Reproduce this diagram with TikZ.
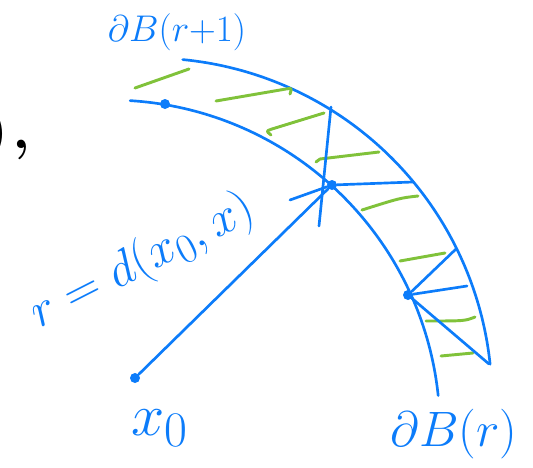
\documentclass[tikz,border=0pt]{standalone}
\definecolor{pen}{RGB}{12, 124, 250}
\definecolor{marker}{RGB}{128, 194, 58}
\usepackage{tikz}
\usetikzlibrary{positioning}

\begin{document}
\begin{tikzpicture}[
            x=0.75pt, y=-0.75pt,
            penline/.style={draw=pen, line width=2pt, line cap=round, line join=round},
            hatchline/.style={draw=marker, line width=2.2pt, line cap=round, line join=round},
            ptdot/.style={circle, fill=pen, inner sep=0pt, minimum size=7.5pt},
            lbl/.style={text=pen, inner sep=0pt, font=\Huge}
        ]
            \useasboundingbox (0,0) rectangle (533,468);
            \node[ptdot] (x0) at (135,378) {};
            \node[ptdot] (x) at (332,185) {};
            \node[ptdot] (y) at (408,295) {};
            \node[ptdot] (z) at (165,104) {};
            \coordinate (xa) at (331,107);
            \coordinate (xb) at (319,226);
            \coordinate (xc) at (413,182);
            \coordinate (xd) at (290,200);
            \coordinate (ya) at (456,249);
            \coordinate (yb) at (467,286);
            \coordinate (yc) at (489,364);
            \draw[penline] plot[domain=-84.5:-6, samples=80] ({150+342*cos(\x)}, {400+342*sin(\x)});
            \draw[penline] plot[domain=-86.5:-6, samples=80] ({110+330*cos(\x)}, {430+330*sin(\x)});
            \draw[hatchline] (135,88) -- (189,69);
            \draw[hatchline] (216,101) -- (286,89) .. controls (292,88) .. (290,94);
            \draw[hatchline] (324,113) -- (272,129) .. controls (266,131) .. (271,135);
            \draw[hatchline] (379,152) -- (320,159) -- (316,162);
            \draw[hatchline] (362,210) .. controls (400,198) .. (418,196);
            \draw[hatchline] (400,261) -- (445,253);
            \draw[hatchline] (426,321) .. controls (465,321) .. (475,317);
            \draw[hatchline] (441,356) -- (473,353);
            \draw[penline] (x0) -- (x);
            \draw[penline] (xa) -- (xb);
            \draw[penline] (x) -- (xc);
            \draw[penline] (x) -- (xd);
            \draw[penline] (y) -- (ya);
            \draw[penline] (y) -- (yb);
            \draw[penline] (y) -- (yc);
            \node[lbl, scale=1.12] (outer) at (177,32) {$\partial B(r{+}1)$};
            \node[lbl, scale=1.5] (inner) at (454,434) {$\partial B(r)$};
            \node[lbl, scale=1.8] (x0lbl) at (160,428) {$x_0$};
            \node[lbl, rotate=27, scale=1.5] (dist) at (143,262) {$r = d(x_0,x)$};
            \node[inner sep=0pt, anchor=base east, font=\Huge\bfseries, scale=1.75] (tail) at (31,148) {)\hspace{1.5pt},};
        \end{tikzpicture}
\end{document}
